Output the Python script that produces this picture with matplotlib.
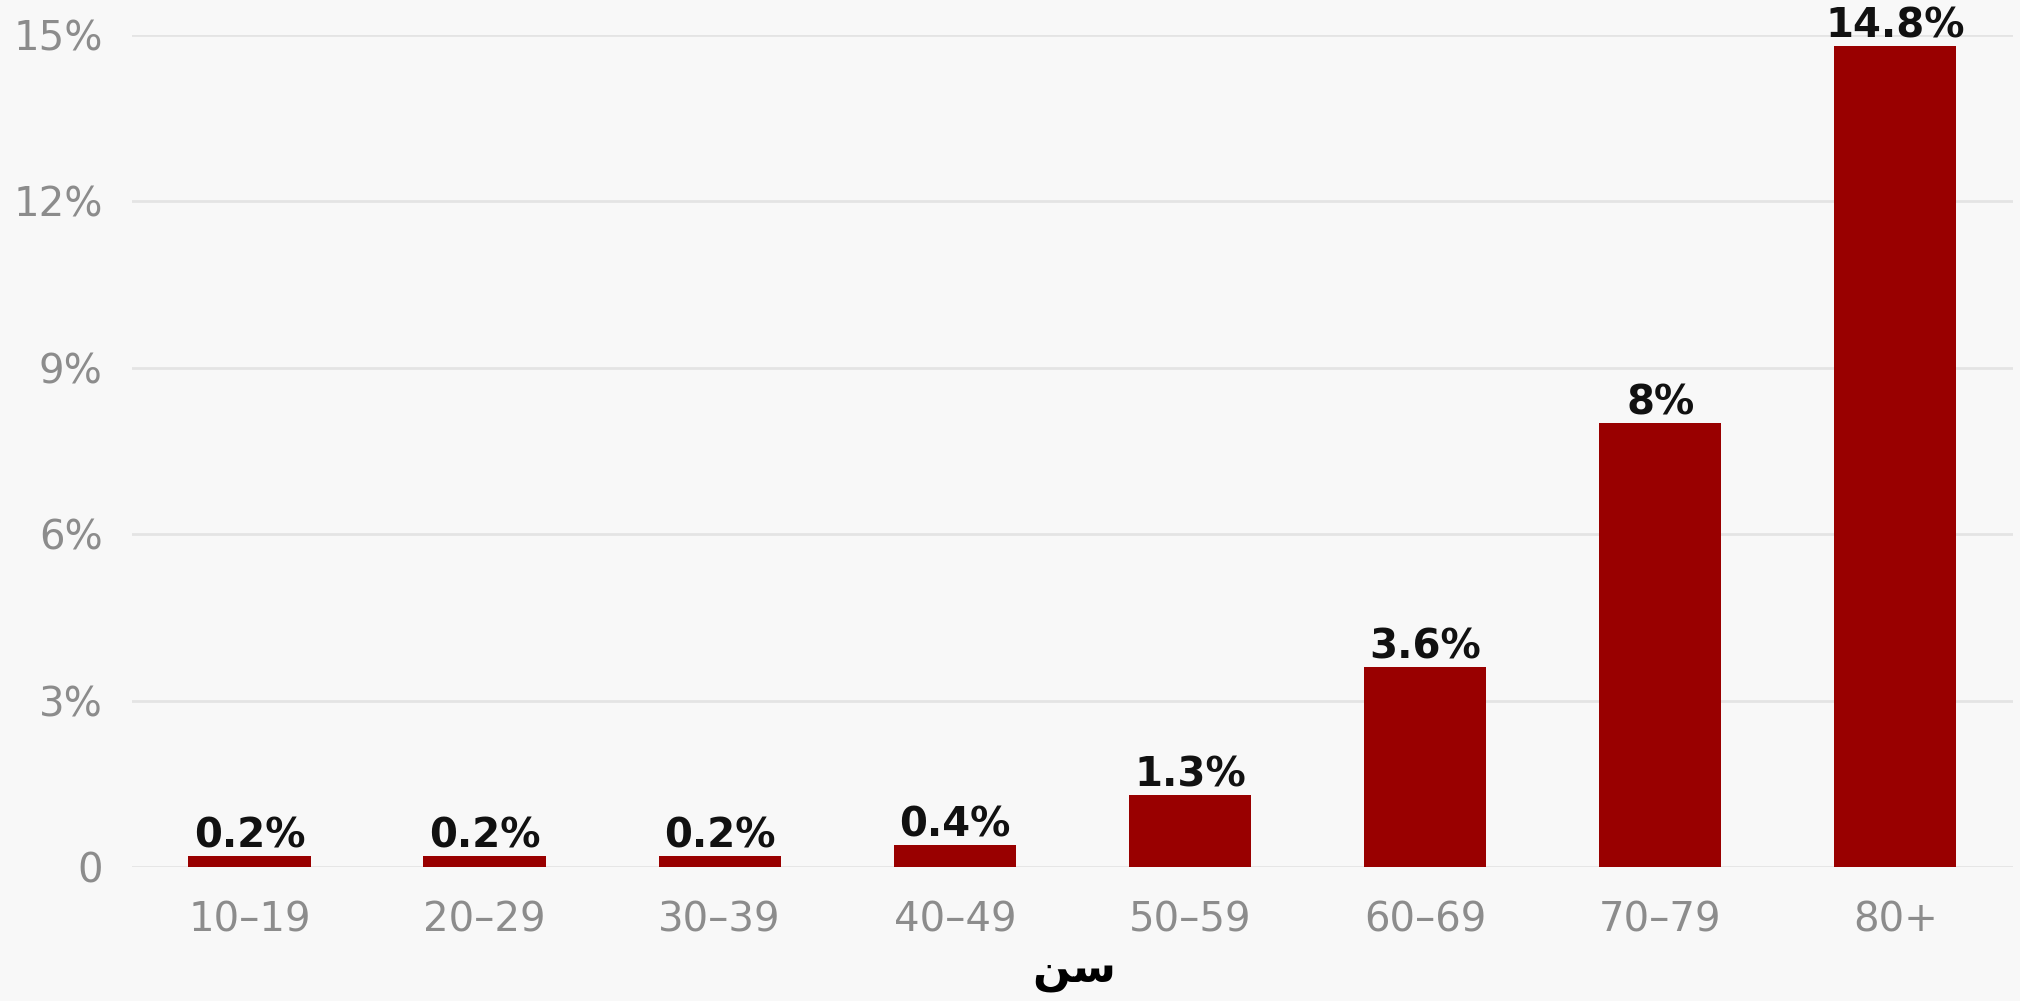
import matplotlib.pyplot as plt

age_groups = ['10–19', '20–29', '30–39', '40–49', '50–59', '60–69', '70–79', '80+']
death_rate = [0.2, 0.2, 0.2, 0.4, 1.3, 3.6, 8, 14.8]
y_ticks = [0, 3, 6, 9, 12, 15]
y_tick_labels = ['0', '3%', '6%', '9%', '12%', '15%']
# "سن" written with presentation forms, in visual order, since matplotlib does no shaping
x_title = '\uFEE6\uFEB3'

bg = '#f8f8f8'
bar_color = '#990000'
grey = '#8c8c8c'

fig = plt.figure(figsize=(20.2, 10.01), dpi=100, facecolor=bg)
ax = fig.add_axes([0.0653, 0.1339, 0.9312, 0.8311], facecolor=bg)

x = range(len(age_groups))
bars = ax.bar(x, death_rate, width=0.52, color=bar_color, zorder=3)

for xi, v in zip(x, death_rate):
    ax.annotate(f'{v:g}%', (xi, v), xytext=(0, 6), textcoords='offset points',
                ha='center', va='baseline', fontsize=29, fontweight='bold',
                color='#111111', clip_on=False, zorder=4)

ax.set_xlim(-0.5, 7.5)
ax.set_ylim(0, 15)
ax.set_yticks(y_ticks)
ax.set_yticklabels(y_tick_labels)
ax.set_xticks(list(x))
ax.set_xticklabels(age_groups)
ax.tick_params(axis='both', length=0, labelsize=29, labelcolor=grey)
ax.tick_params(axis='y', pad=21)
ax.tick_params(axis='x', pad=24)
ax.grid(axis='y', color='#e4e4e4', linewidth=2, zorder=0)
for s in ax.spines.values():
    s.set_visible(False)

fig.text(0.532, 0.019, x_title, fontsize=32, fontweight='bold', color='black',
         family=['DejaVu Sans'], ha='center', va='baseline')

fig.savefig('out.png', dpi=100, facecolor=bg)
